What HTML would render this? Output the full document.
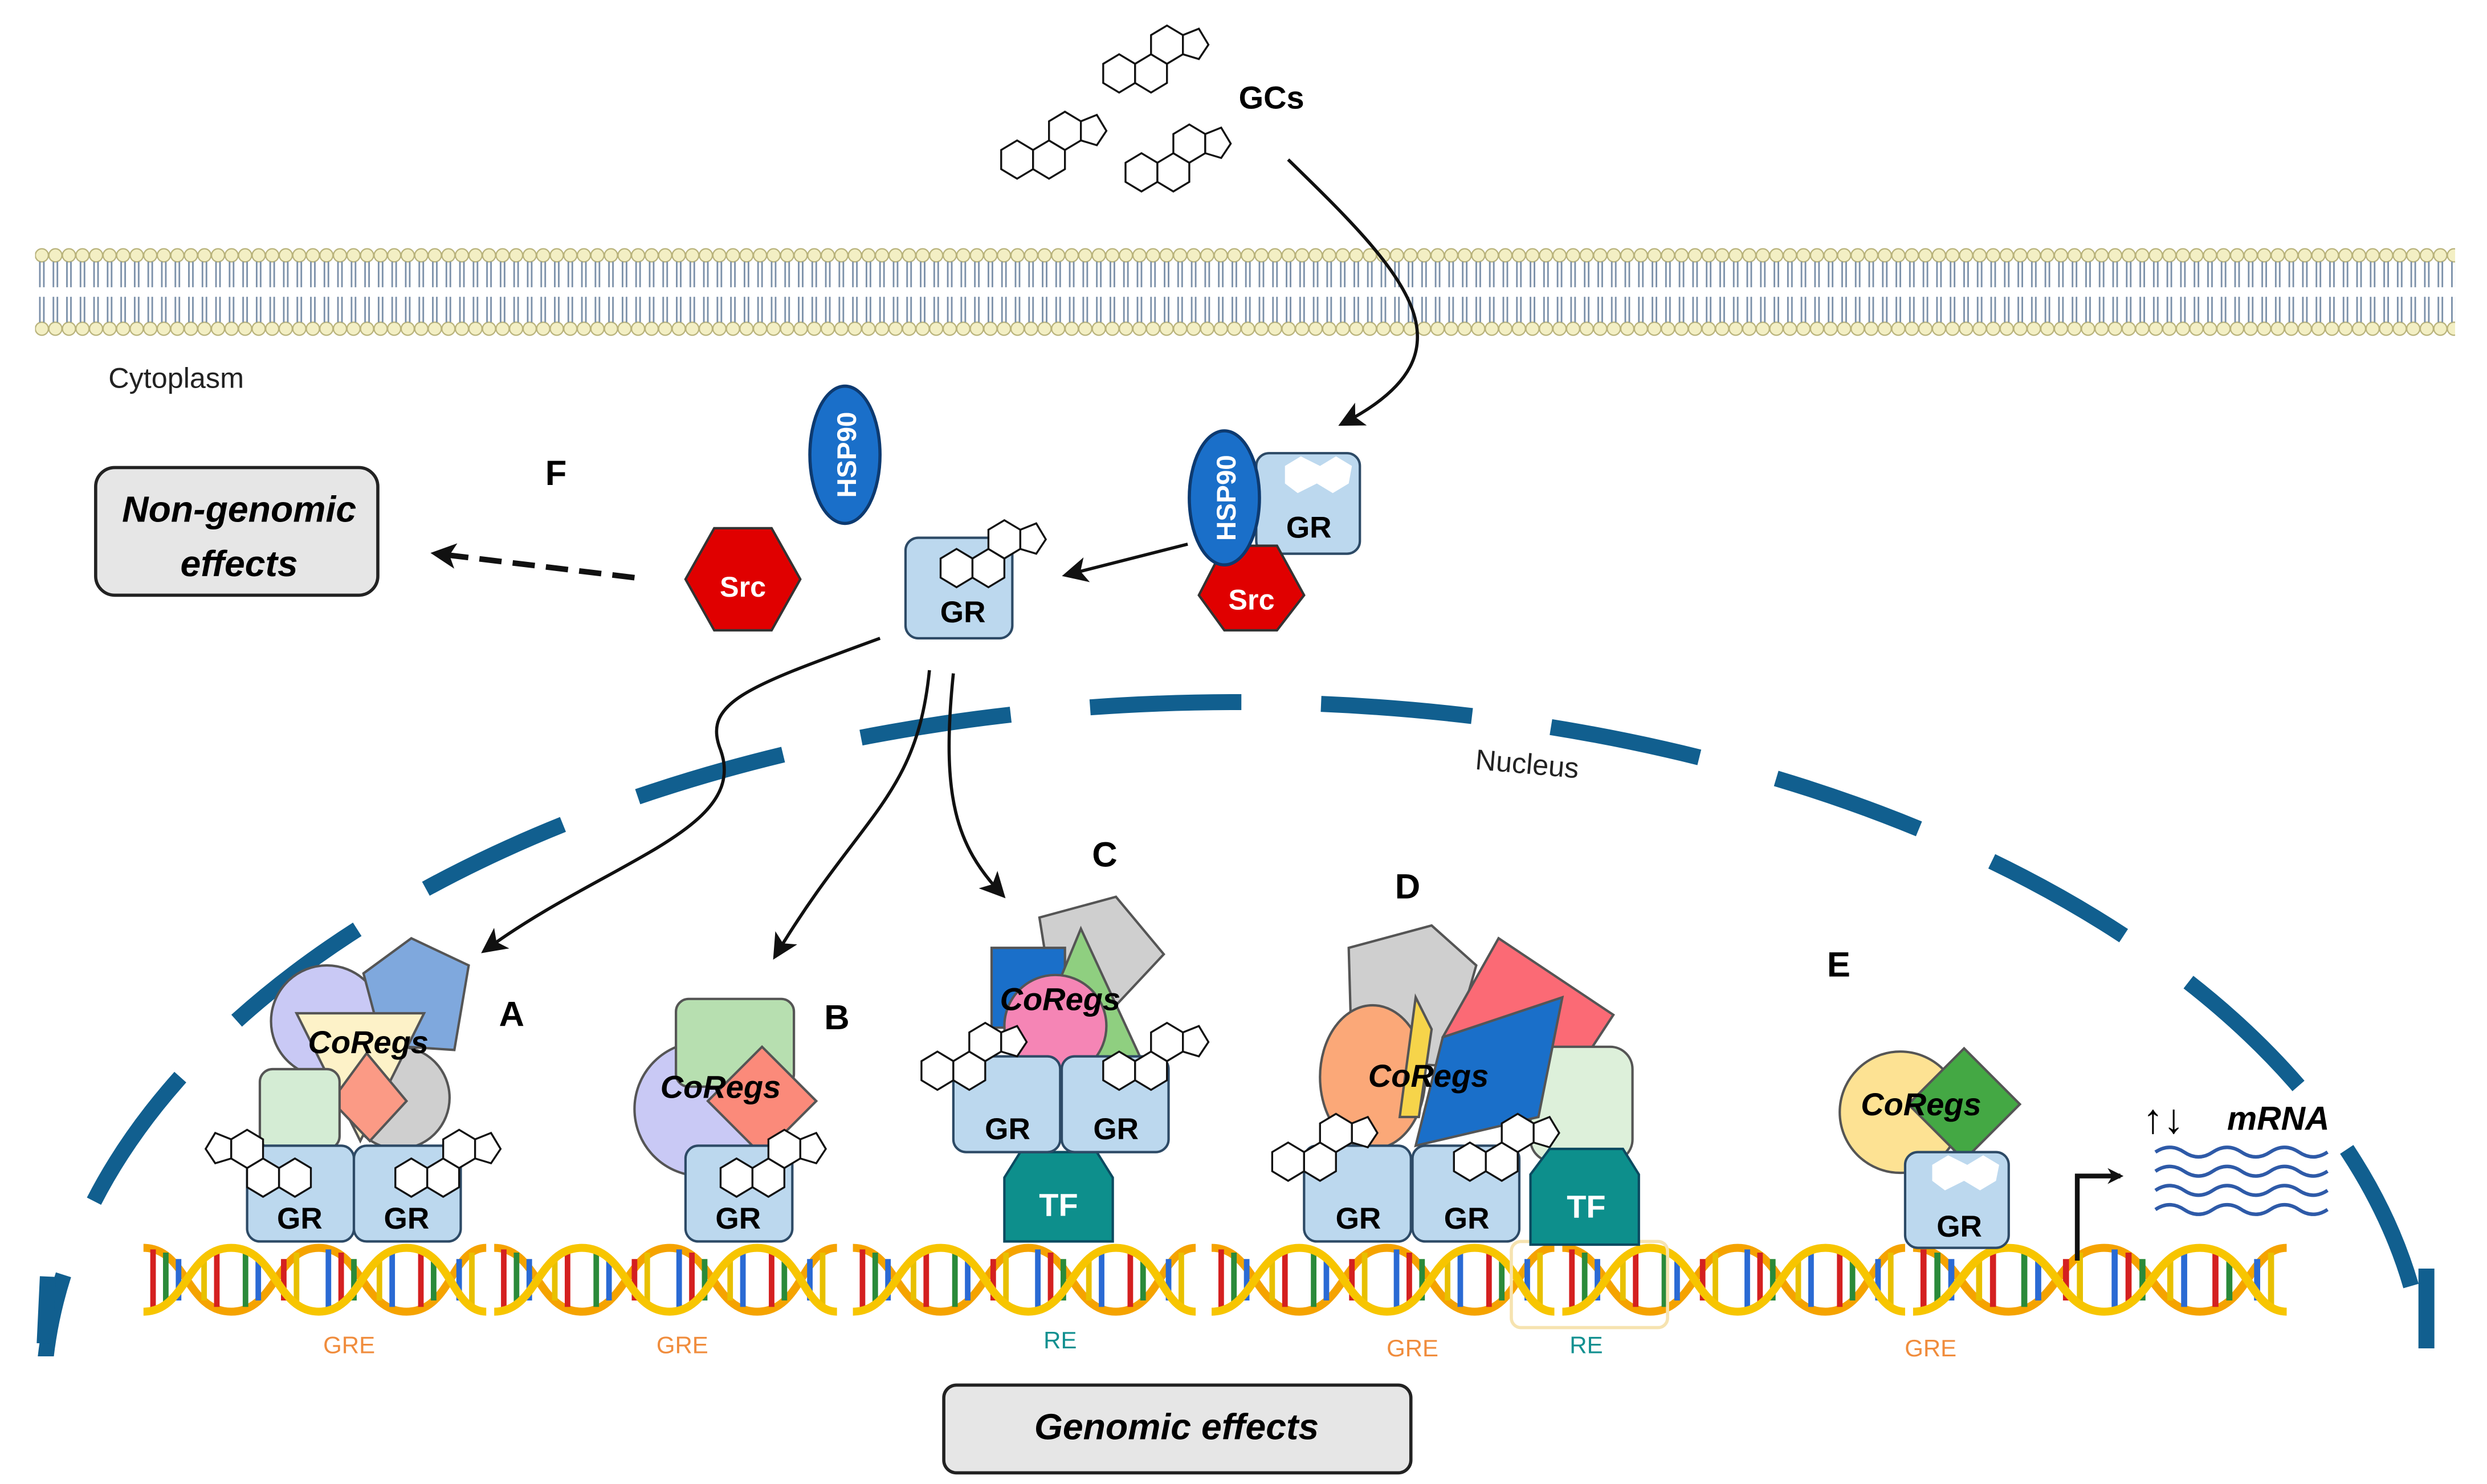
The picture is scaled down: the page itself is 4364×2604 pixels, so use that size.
<!DOCTYPE html>
<html><head><meta charset="utf-8"><style>
html,body{margin:0;padding:0;background:#fff;width:4364px;height:2604px;overflow:hidden}
svg{display:block}
text{font-family:"Liberation Sans",sans-serif}
</style></head><body>
<svg width="4364" height="2604" viewBox="0 0 1560 930" preserveAspectRatio="none" xmlns="http://www.w3.org/2000/svg">
<defs>
<pattern id="mem" x="22" y="150" width="8.5" height="66" patternUnits="userSpaceOnUse">
<circle cx="4.25" cy="10" r="4.1" fill="#f3efc4" stroke="#b8b27a" stroke-width="0.8"/>
<circle cx="4.25" cy="56" r="4.1" fill="#f3efc4" stroke="#b8b27a" stroke-width="0.8"/>
<path d="M3 14 V30 M5.5 14 V30 M3 36 V52 M5.5 36 V52" stroke="#7a8fa8" stroke-width="1" fill="none"/>
</pattern>
<g id="ster" fill="#fff" stroke="#111" stroke-width="1.2">
<polygon points="0,10 10,4 20,10 20,22 10,28 0,22"/>
<polygon points="20,10 30,4 40,10 40,22 30,28 20,22"/>
<polygon points="30,-8 40,-14 50,-8 50,4 40,10 30,4"/>
<polygon points="50,-8 60,-12 66,-2 60,7 50,4"/>
</g>
<g id="dna">
<path d="M0,0 C27,0 27,40 55,40 C83,40 83,0 110,0 C137,0 137,40 165,40 C193,40 193,0 215,0" fill="none" stroke="#f5a300" stroke-width="5"/>
<g stroke-width="3.5">
<line x1="6" y1="1" x2="6" y2="39" stroke="#d42020"/><line x1="14" y1="3" x2="14" y2="37" stroke="#2a8a3a"/>
<line x1="22" y1="7" x2="22" y2="33" stroke="#2a6ad4"/><line x1="38" y1="33" x2="38" y2="7" stroke="#e8c000"/>
<line x1="46" y1="37" x2="46" y2="3" stroke="#d42020"/><line x1="64" y1="37" x2="64" y2="3" stroke="#2a8a3a"/>
<line x1="72" y1="33" x2="72" y2="7" stroke="#2a6ad4"/><line x1="88" y1="7" x2="88" y2="33" stroke="#d42020"/>
<line x1="96" y1="3" x2="96" y2="37" stroke="#e8c000"/><line x1="116" y1="1" x2="116" y2="39" stroke="#2a6ad4"/>
<line x1="124" y1="3" x2="124" y2="37" stroke="#d42020"/><line x1="132" y1="7" x2="132" y2="33" stroke="#2a8a3a"/>
<line x1="148" y1="33" x2="148" y2="7" stroke="#e8c000"/><line x1="156" y1="37" x2="156" y2="3" stroke="#2a6ad4"/>
<line x1="174" y1="37" x2="174" y2="3" stroke="#d42020"/><line x1="182" y1="33" x2="182" y2="7" stroke="#2a8a3a"/>
<line x1="198" y1="7" x2="198" y2="33" stroke="#2a6ad4"/><line x1="206" y1="3" x2="206" y2="37" stroke="#e8c000"/>
</g>
<path d="M0,40 C27,40 27,0 55,0 C83,0 83,40 110,40 C137,40 137,0 165,0 C193,0 193,40 215,40" fill="none" stroke="#f7c500" stroke-width="5"/>
</g>
<marker id="ah" markerWidth="10" markerHeight="10" refX="8" refY="5" orient="auto" markerUnits="userSpaceOnUse"><path d="M0,0 L10,5 L0,10 L3,5z" fill="#111"/></marker>
<marker id="ah2" markerWidth="16" markerHeight="16" refX="12" refY="8" orient="auto" markerUnits="userSpaceOnUse"><path d="M0,0 L16,8 L0,16 L4,8z" fill="#111"/></marker>
</defs>

<rect x="22" y="150" width="1518" height="66" fill="url(#mem)"/>
<text x="68" y="243" font-size="18" fill="#222">Cytoplasm</text>

<use href="#ster" x="692" y="30"/>
<use href="#ster" x="628" y="84"/>
<use href="#ster" x="706" y="92"/>
<text x="777" y="68" font-size="20" font-weight="bold">GCs</text>
<path d="M808,100 C880,170 930,220 843,265" fill="none" stroke="#111" stroke-width="2" marker-end="url(#ah2)"/>

<ellipse cx="775" cy="880" rx="748" ry="440" fill="none" stroke="#115f8f" stroke-width="10" stroke-dasharray="95,50"/>
<rect x="0" y="850" width="1560" height="80" fill="#fff"/>
<path d="M28,842 L30,800 M1522,845 L1522,795" stroke="#115f8f" stroke-width="10"/>
<text x="925" y="482" font-size="18" fill="#222" transform="rotate(5 925 482)">Nucleus</text>

<ellipse cx="530" cy="285" rx="22" ry="43" fill="#1a6fc9" stroke="#0d3a70" stroke-width="2"/>
<text x="537" y="285" font-size="17" font-weight="bold" fill="#fff" text-anchor="middle" transform="rotate(-90 537 285)">HSP90</text>
<polygon points="448,331 484,331 502,363 484,395 448,395 430,363" fill="#e00000" stroke="#333" stroke-width="1.5"/>
<text x="466" y="374" font-size="18" font-weight="bold" fill="#fff" text-anchor="middle">Src</text>
<text x="342" y="304" font-size="22" font-weight="bold">F</text>
<rect x="60" y="293" width="177" height="80" rx="12" fill="#e6e6e6" stroke="#222" stroke-width="2"/>
<text x="150" y="327" font-size="23" font-weight="bold" font-style="italic" text-anchor="middle">Non-genomic</text>
<text x="150" y="361" font-size="23" font-weight="bold" font-style="italic" text-anchor="middle">effects</text>
<path d="M398,362 L274,347" stroke="#111" stroke-width="3.5" stroke-dasharray="14,7" fill="none" marker-end="url(#ah2)"/>

<rect x="568" y="337" width="67" height="63" rx="8" fill="#bcd8ee" stroke="#2d4a66" stroke-width="1.5"/>
<use href="#ster" x="590" y="340"/>
<text x="604" y="390" font-size="19" font-weight="bold" text-anchor="middle">GR</text>
<path d="M745,341 L670,360" stroke="#111" stroke-width="2" marker-end="url(#ah2)"/>

<rect x="788" y="284" width="65" height="63" rx="8" fill="#bcd8ee" stroke="#2d4a66" stroke-width="1.5"/>
<polygon points="806,292 816,286 828,292 838,286 848,292 846,303 836,309 826,303 814,309 806,303" fill="#fff"/>
<text x="821" y="337" font-size="19" font-weight="bold" text-anchor="middle">GR</text>
<polygon points="768,342 801,342 818,373 801,395 768,395 752,373" fill="#e00000" stroke="#333" stroke-width="1.5"/>
<text x="785" y="382" font-size="18" font-weight="bold" fill="#fff" text-anchor="middle">Src</text>
<ellipse cx="768" cy="312" rx="22" ry="42" fill="#1a6fc9" stroke="#0d3a70" stroke-width="2"/>
<text x="775" y="312" font-size="17" font-weight="bold" fill="#fff" text-anchor="middle" transform="rotate(-90 775 312)">HSP90</text>

<path d="M552,400 C470,430 440,440 452,470 C470,520 380,540 305,595" fill="none" stroke="#111" stroke-width="2" marker-end="url(#ah2)"/>
<path d="M583,420 C575,500 540,510 487,598" fill="none" stroke="#111" stroke-width="2" marker-end="url(#ah2)"/>
<path d="M598,422 C590,500 600,530 628,560" fill="none" stroke="#111" stroke-width="2" marker-end="url(#ah2)"/>

<use href="#dna" x="90" y="782"/>
<use href="#dna" x="310" y="782"/>
<use href="#dna" x="535" y="782"/>
<use href="#dna" x="760" y="782"/>
<use href="#dna" x="980" y="782"/>
<use href="#dna" transform="translate(1200,782) scale(1.09,1)"/>
<rect x="948" y="778" width="98" height="54" rx="6" fill="none" stroke="#f6e3b0" stroke-width="2"/>
<text x="219" y="848" font-size="15" fill="#f08c3c" text-anchor="middle">GRE</text>
<text x="428" y="848" font-size="15" fill="#f08c3c" text-anchor="middle">GRE</text>
<text x="665" y="845" font-size="15" fill="#119090" text-anchor="middle">RE</text>
<text x="886" y="850" font-size="15" fill="#f08c3c" text-anchor="middle">GRE</text>
<text x="995" y="848" font-size="15" fill="#119090" text-anchor="middle">RE</text>
<text x="1211" y="850" font-size="15" fill="#f08c3c" text-anchor="middle">GRE</text>

<circle cx="205" cy="640" r="35" fill="#c9c9f5" stroke="#555" stroke-width="1.5"/>
<polygon points="228,610 258,588 294,605 285,658 240,655" fill="#7fa8dd" stroke="#555" stroke-width="1.5"/>
<circle cx="250" cy="688" r="32" fill="#cfcfcf" stroke="#555" stroke-width="1.5"/>
<polygon points="186,635 266,635 226,715" fill="#fdf2c8" stroke="#555" stroke-width="1.5"/>
<polygon points="230,660 255,690 232,715 208,690" fill="#fb9a85" stroke="#555" stroke-width="1.5"/>
<rect x="163" y="670" width="50" height="50" rx="8" fill="#d4ecd4" stroke="#555" stroke-width="1.5"/>
<text x="231" y="660" font-size="20" font-weight="bold" font-style="italic" text-anchor="middle">CoRegs</text>
<rect x="155" y="718" width="67" height="60" rx="8" fill="#bcd8ee" stroke="#2d4a66" stroke-width="1.5"/>
<rect x="222" y="718" width="67" height="60" rx="8" fill="#bcd8ee" stroke="#2d4a66" stroke-width="1.5"/>
<use href="#ster" x="180" y="722" transform="scale(-1,1) translate(-375,0)"/>
<use href="#ster" x="248" y="722"/>
<text x="188" y="770" font-size="19" font-weight="bold" text-anchor="middle">GR</text>
<text x="255" y="770" font-size="19" font-weight="bold" text-anchor="middle">GR</text>
<text x="313" y="643" font-size="22" font-weight="bold">A</text>

<circle cx="440" cy="695" r="42" fill="#c9c9f5" stroke="#555" stroke-width="1.5"/>
<rect x="424" y="626" width="74" height="55" rx="8" fill="#b7dfb0" stroke="#555" stroke-width="1.5"/>
<polygon points="478,656 512,690 478,724 444,690" fill="#fb8a7a" stroke="#555" stroke-width="1.5"/>
<text x="452" y="688" font-size="20" font-weight="bold" font-style="italic" text-anchor="middle">CoRegs</text>
<rect x="430" y="718" width="67" height="60" rx="8" fill="#bcd8ee" stroke="#2d4a66" stroke-width="1.5"/>
<use href="#ster" x="452" y="722"/>
<text x="463" y="770" font-size="19" font-weight="bold" text-anchor="middle">GR</text>
<text x="517" y="645" font-size="22" font-weight="bold">B</text>

<polygon points="652,575 700,562 730,598 700,630 660,625" fill="#cfcfcf" stroke="#555" stroke-width="1.5"/>
<rect x="622" y="594" width="46" height="50" fill="#1a6fc9" stroke="#555" stroke-width="1.5"/>
<polygon points="678,582 715,662 645,662" fill="#8fcf80" stroke="#555" stroke-width="1.5"/>
<circle cx="662" cy="643" r="32" fill="#f585b5" stroke="#555" stroke-width="1.5"/>
<text x="665" y="633" font-size="20" font-weight="bold" font-style="italic" text-anchor="middle">CoRegs</text>
<polygon points="640,722 688,722 698,738 698,778 630,778 630,738" fill="#0d8f8c" stroke="#0b4a60" stroke-width="1.5"/>
<text x="664" y="762" font-size="20" font-weight="bold" fill="#fff" text-anchor="middle">TF</text>
<rect x="598" y="662" width="67" height="60" rx="8" fill="#bcd8ee" stroke="#2d4a66" stroke-width="1.5"/>
<rect x="666" y="662" width="67" height="60" rx="8" fill="#bcd8ee" stroke="#2d4a66" stroke-width="1.5"/>
<use href="#ster" x="578" y="655"/>
<use href="#ster" x="692" y="655"/>
<text x="632" y="714" font-size="19" font-weight="bold" text-anchor="middle">GR</text>
<text x="700" y="714" font-size="19" font-weight="bold" text-anchor="middle">GR</text>
<text x="685" y="543" font-size="22" font-weight="bold">C</text>

<polygon points="846,594 898,580 926,605 908,668 848,665" fill="#cfcfcf" stroke="#555" stroke-width="1.5"/>
<polygon points="940,588 1012,636 970,700 905,650" fill="#fb6a75" stroke="#555" stroke-width="1.5"/>
<rect x="960" y="656" width="64" height="72" rx="14" fill="#ddf0da" stroke="#555" stroke-width="1.5"/>
<ellipse cx="861" cy="675" rx="33" ry="45" fill="#fba878" stroke="#555" stroke-width="1.5"/>
<polygon points="888,625 898,645 890,700 878,700" fill="#f6d44a" stroke="#555" stroke-width="1.5"/>
<polygon points="905,650 980,625 965,700 888,718" fill="#1a6fc9" stroke="#555" stroke-width="1.5"/>
<text x="896" y="681" font-size="20" font-weight="bold" font-style="italic" text-anchor="middle">CoRegs</text>
<rect x="818" y="718" width="67" height="60" rx="8" fill="#bcd8ee" stroke="#2d4a66" stroke-width="1.5"/>
<rect x="886" y="718" width="67" height="60" rx="8" fill="#bcd8ee" stroke="#2d4a66" stroke-width="1.5"/>
<use href="#ster" x="798" y="712"/>
<use href="#ster" x="912" y="712"/>
<polygon points="972,720 1018,720 1028,736 1028,780 960,780 960,736" fill="#0d8f8c" stroke="#0b4a60" stroke-width="1.5"/>
<text x="995" y="763" font-size="20" font-weight="bold" fill="#fff" text-anchor="middle">TF</text>
<text x="852" y="770" font-size="19" font-weight="bold" text-anchor="middle">GR</text>
<text x="920" y="770" font-size="19" font-weight="bold" text-anchor="middle">GR</text>
<text x="875" y="563" font-size="22" font-weight="bold">D</text>

<circle cx="1192" cy="697" r="38" fill="#fde293" stroke="#555" stroke-width="1.5"/>
<polygon points="1232,657 1267,692 1232,727 1197,692" fill="#44a844" stroke="#555" stroke-width="1.5"/>
<text x="1205" y="699" font-size="20" font-weight="bold" font-style="italic" text-anchor="middle">CoRegs</text>
<rect x="1195" y="722" width="65" height="60" rx="8" fill="#bcd8ee" stroke="#2d4a66" stroke-width="1.5"/>
<polygon points="1212,730 1222,724 1234,730 1244,724 1254,730 1252,740 1242,746 1232,740 1220,746 1212,740" fill="#fff"/>
<text x="1229" y="775" font-size="19" font-weight="bold" text-anchor="middle">GR</text>
<text x="1146" y="612" font-size="22" font-weight="bold">E</text>
<path d="M1303,790 V737 H1330" fill="none" stroke="#111" stroke-width="3" marker-end="url(#ah)"/>
<text x="1344" y="710" font-size="26" font-weight="bold">↑↓</text>
<text x="1397" y="708" font-size="21" font-weight="bold" font-style="italic">mRNA</text>
<g fill="none" stroke="#2e5aa8" stroke-width="2.2">
<path d="M1352,722 q9,-6 18,0 t18,0 t18,0 t18,0 t18,0 t18,0"/>
<path d="M1352,734 q9,-6 18,0 t18,0 t18,0 t18,0 t18,0 t18,0"/>
<path d="M1352,746 q9,-6 18,0 t18,0 t18,0 t18,0 t18,0 t18,0"/>
<path d="M1352,758 q9,-6 18,0 t18,0 t18,0 t18,0 t18,0 t18,0"/>
</g>

<rect x="592" y="868" width="293" height="55" rx="8" fill="#e6e6e6" stroke="#222" stroke-width="2"/>
<text x="738" y="902" font-size="23" font-weight="bold" font-style="italic" text-anchor="middle">Genomic effects</text>
</svg>
</body></html>
